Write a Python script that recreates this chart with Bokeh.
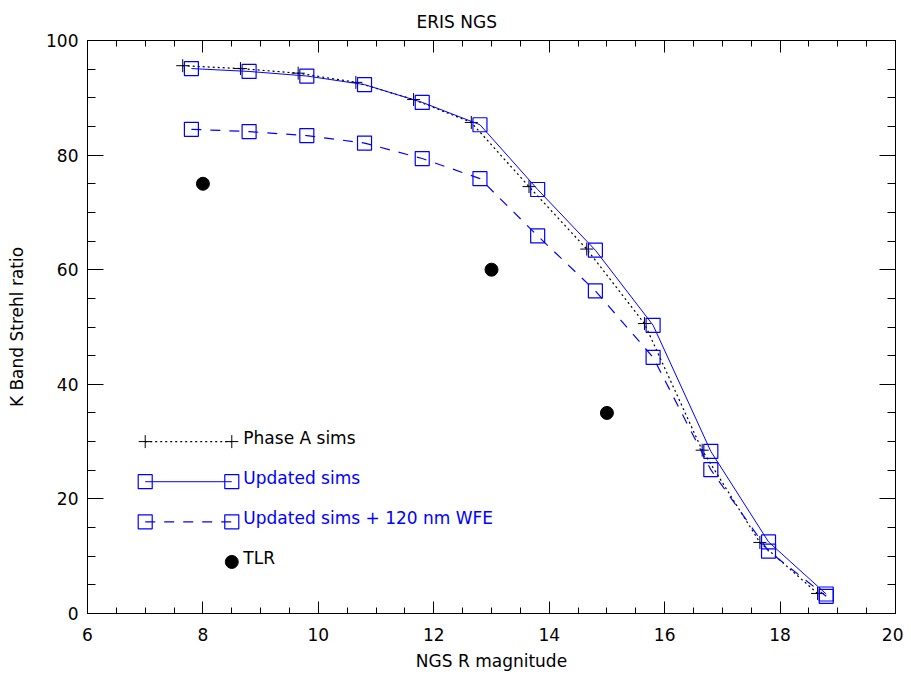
import numpy as np
from bokeh.plotting import figure
from bokeh.models import Range1d, LinearAxis, SingleIntervalTicker, FixedTicker, ColumnDataSource
from bokeh.core.properties import value
from bokeh.embed import file_html
from bokeh.resources import INLINE

# ---- data ----
phaseA_mag = [7.65, 8.65, 9.65, 10.65, 11.65, 12.65, 13.65, 14.65, 15.65, 16.65, 17.65, 18.65]
phaseA_sr = [95.6, 95.1, 94.3, 92.7, 89.7, 85.7, 74.5, 63.6, 50.6, 28.5, 12.4, 3.5]

updated_mag = [7.8, 8.8, 9.8, 10.8, 11.8, 12.8, 13.8, 14.8, 15.8, 16.8, 17.8, 18.8]
updated_sr = [95.1, 94.6, 93.8, 92.3, 89.2, 85.3, 74.0, 63.4, 50.3, 28.3, 12.5, 3.4]
updated_wfe_sr = [84.5, 84.1, 83.4, 82.1, 79.4, 75.9, 65.9, 56.3, 44.7, 25.1, 10.9, 3.0]

tlr_mag = [8, 13, 15]
tlr_sr = [75, 60, 35]

legend_labels = ["Phase A sims", "Updated sims", "Updated sims + 120 nm WFE", "TLR"]

X_MIN, X_MAX, X_MAJ, X_MIN_STEP = 6, 20, 2, 0.5
Y_MIN, Y_MAX, Y_MAJ, Y_MIN_STEP = 0, 100, 20, 5

FONT = "DejaVu Sans"
BLUE = "#0000ff"

p = figure(width=903, height=676, output_backend="svg", toolbar_location=None,
           x_range=Range1d(X_MIN, X_MAX), y_range=Range1d(Y_MIN, Y_MAX),
           min_border_left=87, min_border_right=8, min_border_top=38, min_border_bottom=63)
p.title.text = "ERIS NGS"
p.grid.visible = False
p.outline_line_color = "black"
p.background_fill_color = "white"
p.border_fill_color = "white"

p.title.text_font = FONT
p.title.text_font_size = "17px"
p.title.text_font_style = "normal"
p.title.text_color = "black"
p.title.align = "left"
p.title.offset = 329
p.title.standoff = 18

def style_main(ax, interval, tick_len):
    ax.ticker = SingleIntervalTicker(interval=interval, num_minor_ticks=4)
    ax.major_tick_in = tick_len
    ax.major_tick_out = 0
    ax.minor_tick_in = tick_len // 2
    ax.minor_tick_out = 0
    ax.axis_line_color = "black"
    ax.major_tick_line_color = "black"
    ax.minor_tick_line_color = "black"
    ax.major_label_text_font = FONT
    ax.major_label_text_font_size = "17px"
    ax.major_label_text_color = "black"
    ax.axis_label_text_font = FONT
    ax.axis_label_text_font_size = "17px"
    ax.axis_label_text_font_style = "normal"
    ax.axis_label_text_color = "black"

style_main(p.xaxis[0], X_MAJ, 12)
style_main(p.yaxis[0], Y_MAJ, 16)
p.xaxis.major_label_standoff = 14
p.yaxis.major_label_standoff = 9
p.xaxis.axis_label = "NGS R magnitude"
p.yaxis.axis_label = "K Band Strehl ratio"
p.xaxis.axis_label_standoff = 7
p.yaxis.axis_label_standoff = 16

# mirrored tick marks (no labels) on the top and right sides
def tick_only_axis(positions, tick_len):
    ax = LinearAxis(ticker=FixedTicker(ticks=[], minor_ticks=list(positions)))
    ax.minor_tick_in = tick_len
    ax.minor_tick_out = 0
    ax.major_tick_in = 0
    ax.major_tick_out = 0
    ax.major_label_standoff = 0
    ax.axis_line_color = "black"
    ax.minor_tick_line_color = "black"
    return ax

x_minor = np.arange(X_MIN, X_MAX + 1e-9, X_MIN_STEP)
x_major = np.arange(X_MIN, X_MAX + 1e-9, X_MAJ)
y_minor = np.arange(Y_MIN, Y_MAX + 1e-9, Y_MIN_STEP)
y_major = np.arange(Y_MIN, Y_MAX + 1e-9, Y_MAJ)

p.add_layout(tick_only_axis(x_minor, 6), "above")
p.add_layout(tick_only_axis(x_major, 12), "above")
p.add_layout(tick_only_axis(y_minor, 8), "right")
p.add_layout(tick_only_axis(y_major, 16), "right")

# ---- data series ----
p.line(phaseA_mag, phaseA_sr, line_color="black", line_dash="2 3", line_width=1.2)
p.scatter(phaseA_mag, phaseA_sr, marker="cross", size=13, line_color="black", line_width=1)

p.line(updated_mag, updated_sr, line_color=BLUE, line_width=1)
p.scatter(updated_mag, updated_sr, marker="square", size=14, line_color=BLUE,
          fill_color=None, line_width=1.2)

p.line(updated_mag, updated_wfe_sr, line_color=BLUE, line_dash="10 9", line_width=1.2)
p.scatter(updated_mag, updated_wfe_sr, marker="square", size=14, line_color=BLUE,
          fill_color=None, line_width=1.2)

p.scatter(tlr_mag, tlr_sr, marker="circle", size=13, fill_color="black", line_color="black")

# ---- hand-drawn legend (IDL style) ----
LX0, LX1, LTX = 7.0, 8.5, 8.7
rows = [30, 23, 16, 9]

p.line([LX0, LX1], [rows[0], rows[0]], line_color="black", line_dash="2 3", line_width=1.2)
p.scatter([LX0, LX1], [rows[0], rows[0]], marker="cross", size=13, line_color="black")
p.line([LX0, LX1], [rows[1], rows[1]], line_color=BLUE)
p.scatter([LX0, LX1], [rows[1], rows[1]], marker="square", size=14, line_color=BLUE,
          fill_color=None, line_width=1.2)
p.line([LX0, LX1], [rows[2], rows[2]], line_color=BLUE, line_dash="10 9", line_width=1.2)
p.scatter([LX0, LX1], [rows[2], rows[2]], marker="square", size=14, line_color=BLUE,
          fill_color=None, line_width=1.2)
p.scatter([LX1], [rows[3]], marker="circle", size=13, fill_color="black", line_color="black")

src = ColumnDataSource(dict(x=[LTX] * 4, y=rows, t=legend_labels,
                            c=["black", BLUE, BLUE, "black"]))
p.text(x="x", y="y", text="t", source=src, text_color="c",
       text_font=value(FONT), text_font_size="17px",
       text_baseline="middle", text_align="left", y_offset=-4)

open("out.html", "w").write(file_html(p, INLINE))
